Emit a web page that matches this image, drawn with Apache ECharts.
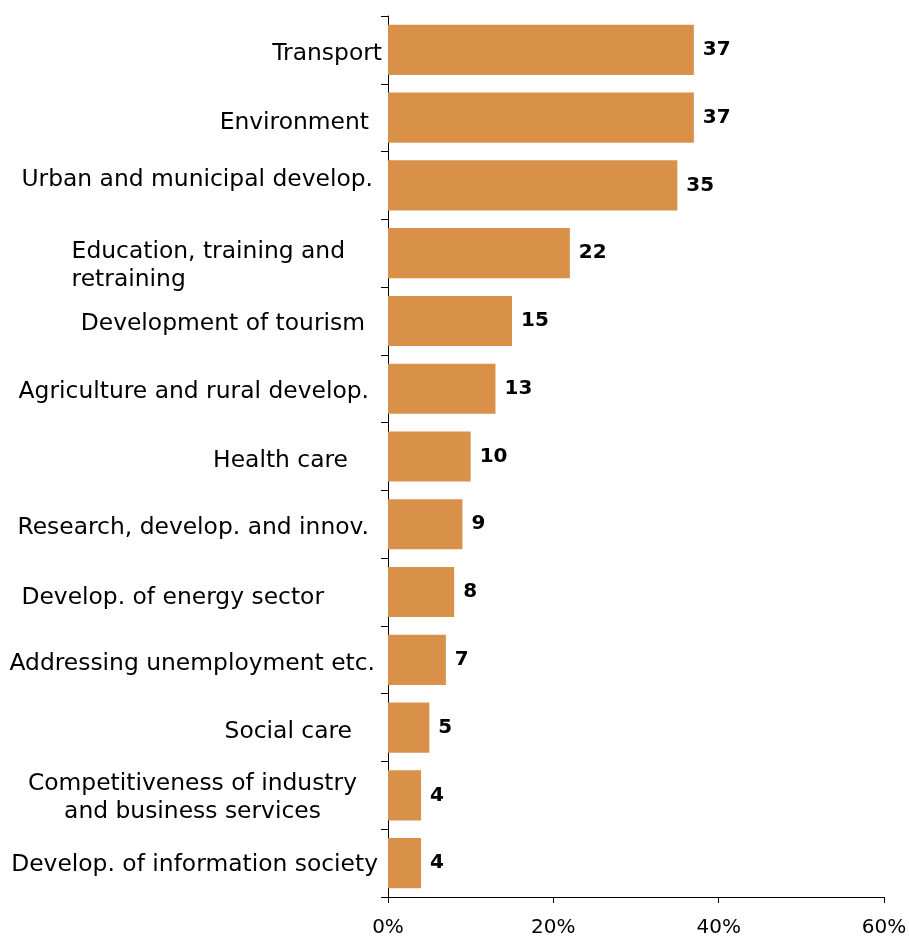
<!DOCTYPE html>
<html>
<head>
<meta charset="utf-8">
<script src="https://cdn.jsdelivr.net/npm/echarts@6/dist/echarts.min.js"></script>
<style>
  html, body { margin: 0; padding: 0; background: #fff; }
  #chart { width: 909px; height: 936px; }
</style>
</head>
<body>
<div id="chart"></div>
<script>
// Share of projects by sector (%), top to bottom
const categories = [
  'Transport',
  'Environment',
  'Urban and municipal develop.',
  'Education, training and\nretraining',
  'Development of tourism',
  'Agriculture and rural develop.',
  'Health care',
  'Research, develop. and innov.',
  'Develop. of energy sector',
  'Addressing unemployment etc.',
  'Social care',
  'Competitiveness of industry\nand business services',
  'Develop. of information society'
];
const values = [37, 37, 35, 22, 15, 13, 10, 9, 8, 7, 5, 4, 4];
const xTicks = [0, 20, 40, 60];

// Per-label layout tweaks: [top, right, bottom, left] padding and line alignment
const labelPadding = [
  [8, 0, 0, 0],
  [10, 13, 0, 0],
  [0, 9, 12, 0],
  [26, 37, 0, 0],
  [6, 17, 0, 0],
  [6, 13, 0, 0],
  [8, 34, 0, 0],
  [8, 13, 0, 0],
  [12, 58, 0, 0],
  [8, 7, 0, 0],
  [8, 30, 0, 0],
  [6, 25, 0, 0],
  [4, 4, 0, 0]
];
const labelAlign = ['r', 'r', 'r', 'l', 'r', 'r', 'r', 'r', 'r', 'r', 'r', 'c', 'r'];

// ECharts draws the first category at the bottom, so reverse for top-down order
const cats = categories.slice().reverse();
const vals = values.slice().reverse();
const pads = labelPadding.slice().reverse();
const aligns = labelAlign.slice().reverse();

const font = 'DejaVu Sans, Verdana, sans-serif';
const catSize = 23.4;

const chart = echarts.init(document.getElementById('chart'));
chart.setOption({
  animation: false,
  backgroundColor: '#ffffff',
  grid: { left: 388, right: 25, top: 16, bottom: 39, containLabel: false, outerBoundsMode: 'none' },
  xAxis: {
    type: 'value',
    min: 0,
    max: 60,
    interval: 20,
    axisLine: { show: true, lineStyle: { color: '#000', width: 1 } },
    axisTick: { show: true, length: 6, inside: false, lineStyle: { color: '#000' } },
    splitLine: { show: false },
    axisLabel: {
      margin: 21,
      fontFamily: font,
      fontSize: 20,
      color: '#000',
      formatter: function (v) { return xTicks.indexOf(v) >= 0 ? v + '%' : ''; }
    }
  },
  yAxis: {
    type: 'category',
    data: cats.map(function (c, i) {
      return { value: c, textStyle: { padding: pads[i] } };
    }),
    axisLine: { show: true, lineStyle: { color: '#000', width: 1 } },
    axisTick: { show: true, length: 7, alignWithLabel: false, lineStyle: { color: '#000' } },
    axisLabel: {
      margin: 6,
      interval: 0,
      fontFamily: font,
      fontSize: catSize,
      color: '#000',
      lineHeight: 28,
      formatter: function (v, idx) {
        const a = aligns[idx];
        return v.split('\n').map(function (line) { return '{' + a + '|' + line + '}'; }).join('\n');
      },
      rich: {
        l: { align: 'left', fontFamily: font, fontSize: catSize, lineHeight: 28, color: '#000' },
        r: { align: 'right', fontFamily: font, fontSize: catSize, lineHeight: 28, color: '#000' },
        c: { align: 'center', fontFamily: font, fontSize: catSize, lineHeight: 28, color: '#000' }
      }
    }
  },
  series: [{
    type: 'bar',
    data: vals,
    barCategoryGap: '26%',
    itemStyle: { color: '#D99049' },
    label: {
      show: true,
      position: 'right',
      distance: 9,
      fontFamily: font,
      fontSize: 20,
      fontWeight: 'bold',
      color: '#000'
    }
  }]
});
</script>
</body>
</html>
